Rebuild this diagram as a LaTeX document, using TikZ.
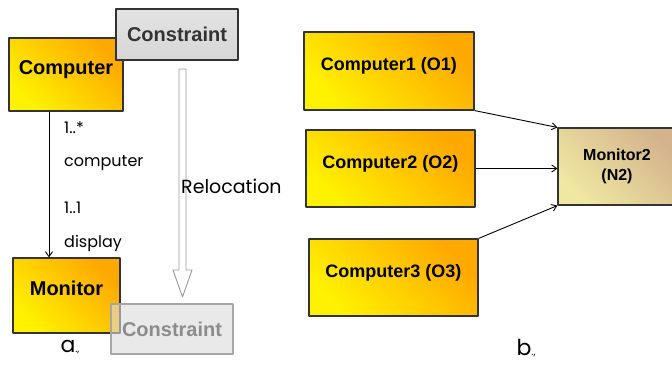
\documentclass[tikz,border=0pt]{standalone}
\usepackage{fontspec}
\setmainfont{Liberation Sans}
\newfontfamily\gothic{Poppins}
\usetikzlibrary{arrows.meta}
\definecolor{classyellow}{HTML}{FFF200}
\definecolor{classorange}{HTML}{FFA800}
\definecolor{khakilight}{HTML}{EFE8A2}
\definecolor{khakidark}{HTML}{D4B48C}
\definecolor{edgegray}{HTML}{333333}
\begin{document}
\begin{tikzpicture}[x=1pt,y=-1pt,line join=round,
  cls/.style={draw=edgegray,line width=1.1pt,top color=classorange,bottom color=classyellow,
    shading angle=-45,font=\bfseries\fontsize{20}{22}\selectfont,text depth=14pt},
  obj/.style={cls,font=\bfseries\fontsize{18}{20}\selectfont},
  constr/.style={draw=edgegray,line width=1.1pt,top color=gray!22,bottom color=gray!32,
    font=\bfseries\fontsize{20}{22}\selectfont,text=black!80},
  ghost/.style={draw=gray!70,line width=1.1pt,fill=gray!28,fill opacity=.6,text opacity=1,
    font=\bfseries\fontsize{20}{22}\selectfont,text=gray!90},
  role/.style={font=\gothic\fontsize{16}{18}\selectfont,anchor=west,inner sep=0pt},
  caption/.style={font=\gothic\fontsize{22}{24}\selectfont,inner sep=0pt}]
  \useasboundingbox (0,0) rectangle (672,365);
  \clip (0,0) rectangle (672,365);

  \node[cls,minimum width=114pt,minimum height=73pt] (computer) at (66,74.5) {Computer};
  \node[constr,minimum width=122pt,minimum height=51pt] (constraint) at (177,34.5) {Constraint};
  \node[cls,minimum width=107pt,minimum height=75pt] (monitor) at (66.5,295.5) {Monitor};
  \node[ghost,minimum width=122pt,minimum height=50pt] (moved) at (172,329) {Constraint};

  \coordinate (ax) at (49,0);
  \draw[line width=.9pt,-{Straight Barb[length=5pt,width=7pt]}]
    (computer.south -| ax) -- (monitor.north -| ax);
  \node[role] (m1) at (64,128) {1..*};
  \node[role] (r1) at (64,163) {computer};
  \node[role] (m2) at (64,208) {1..1};
  \node[role] (r2) at (64,243) {display};

  \draw[gray!80,line width=.9pt,fill=white] (179,69) -- (179,270) -- (173,270) -- (182.5,297)
    -- (192,270) -- (186,270) -- (186,69) -- cycle;
  \node[role,font=\gothic\fontsize{19}{21}\selectfont] (reloc) at (181,186) {Relocation};

  \node[caption] (a) at (70,347) {a\fontsize{10}{12}\selectfont.,};

  \node[obj,minimum width=170pt,minimum height=78pt] (comp1) at (389,71) {Computer1 (O1)};
  \node[obj,minimum width=169pt,minimum height=77pt] (comp2) at (390.5,168.5) {Computer2 (O2)};
  \node[obj,minimum width=169pt,minimum height=77pt] (comp3) at (393.5,277.5) {Computer3 (O3)};
  \node[draw=edgegray,line width=1.1pt,top color=khakidark,bottom color=khakilight,shading angle=-45,
    font=\bfseries\fontsize{16}{20}\selectfont,align=center,minimum width=118pt,minimum height=77pt]
    (monitor2) at (617,166.5) {Monitor2\\(N2)};

  \draw[line width=.9pt,-{Straight Barb[length=5pt,width=7pt]}] (comp1.south east) -- (monitor2.north west);
  \draw[line width=.9pt,-{Straight Barb[length=5pt,width=7pt]}] (comp2.east) -- (comp2.east -| monitor2.west);
  \draw[line width=.9pt,-{Straight Barb[length=5pt,width=7pt]}] (comp3.north east) -- (monitor2.south west);

  \node[caption] (b) at (526,348) {b\fontsize{10}{12}\selectfont.,};
\end{tikzpicture}
\end{document}
